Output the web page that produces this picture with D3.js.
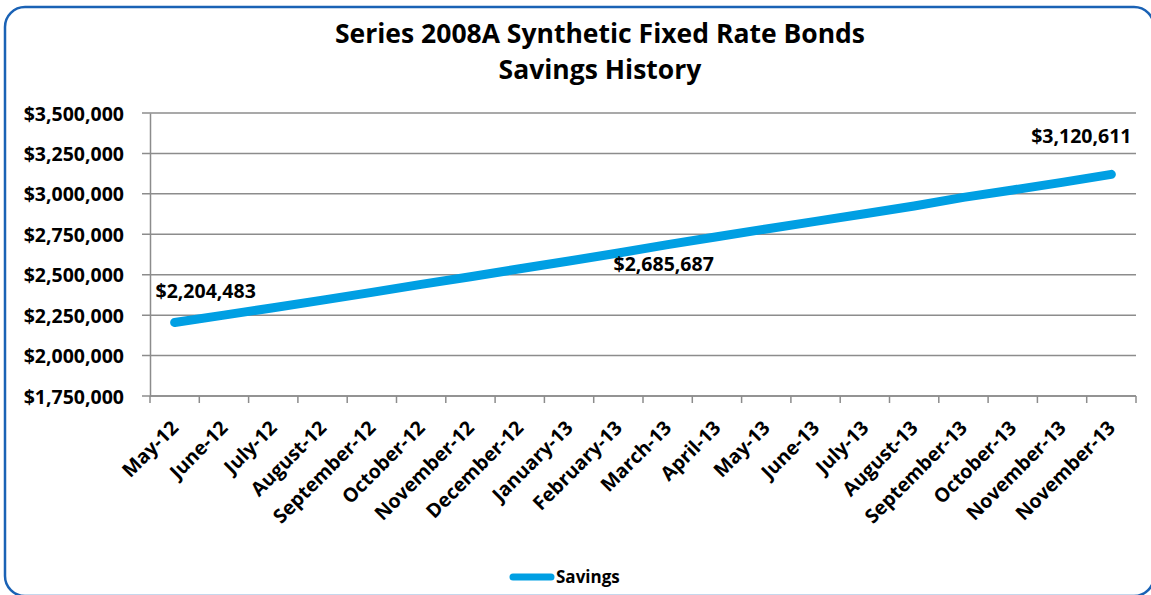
<!DOCTYPE html>
<html>
<head>
<meta charset="utf-8">
<script src="https://cdn.jsdelivr.net/npm/d3@7"></script>
<style>
  body { margin: 0; background: #fff; }
  text { font-family: "Open Sans", "DejaVu Sans", sans-serif; font-weight: 700; fill: #000; }
</style>
</head>
<body>
<script>
var months = ["May-12", "June-12", "July-12", "August-12", "September-12", "October-12",
              "November-12", "December-12", "January-13", "February-13", "March-13", "April-13",
              "May-13", "June-13", "July-13", "August-13", "September-13", "October-13",
              "November-13", "November-13"];
var savings = [2204483, 2250000, 2296000, 2343000, 2391000, 2440000, 2487000, 2537000,
               2585000, 2634000, 2685687, 2735000, 2783000, 2830000, 2877000, 2925000,
               2978000, 3024000, 3071000, 3120611];
var yTicks = [1750000, 2000000, 2250000, 2500000, 2750000, 3000000, 3250000, 3500000];
var labelIdx = [0, 10, 19];   // points that show their value

var W = 1151, H = 595,
    margin = {top: 113, left: 150},
    width = 1136 - margin.left,
    height = 396 - margin.top;

var svg = d3.select("body").append("svg")
    .attr("width", W)
    .attr("height", H);

// outer frame
svg.append("rect")
    .attr("x", 5).attr("y", 7)
    .attr("width", 1149).attr("height", 589)
    .attr("rx", 20).attr("ry", 20)
    .attr("fill", "none")
    .attr("stroke", "#1A62B5")
    .attr("stroke-width", 2.5);

svg.append("text")
    .attr("x", 600).attr("y", 43)
    .attr("text-anchor", "middle")
    .style("font-size", "26.5px")
    .text("Series 2008A Synthetic Fixed Rate Bonds");
svg.append("text")
    .attr("x", 600).attr("y", 79)
    .attr("text-anchor", "middle")
    .style("font-size", "26.5px")
    .text("Savings History");

var g = svg.append("g").attr("transform", "translate(" + margin.left + "," + margin.top + ")");

var x = d3.scaleBand()
    .domain(d3.range(months.length))
    .range([0, width]);

var y = d3.scaleLinear()
    .domain([1750000, 3500000])
    .range([height, 0]);

var fmt = d3.format("$,.0f");
var cx = function(i) { return x(i) + x.bandwidth() / 2; };

// gridlines
g.append("g")
    .selectAll("line")
    .data(yTicks)
    .enter().append("line")
      .attr("x1", -8).attr("x2", width)
      .attr("y1", function(d) { return y(d); })
      .attr("y2", function(d) { return y(d); })
      .attr("stroke", "#8c8c8c")
      .attr("stroke-width", 1.5);

// y axis
var yAxis = g.append("g")
    .call(d3.axisLeft(y).tickValues(yTicks).tickSize(0).tickPadding(26).tickFormat(fmt));
yAxis.select(".domain").attr("stroke", "#8c8c8c").attr("stroke-width", 1.5);
yAxis.selectAll("text").style("font-size", "19.5px").attr("dy", "0.36em");

// x axis, ticks between categories
var xAxis = g.append("g").attr("transform", "translate(0," + height + ")");
xAxis.append("line")
    .attr("x1", 0).attr("x2", width)
    .attr("stroke", "#8c8c8c").attr("stroke-width", 1.5);
xAxis.selectAll("line.tk")
    .data(d3.range(months.length + 1))
    .enter().append("line")
      .attr("class", "tk")
      .attr("x1", function(d) { return d * x.step(); })
      .attr("x2", function(d) { return d * x.step(); })
      .attr("y1", 0).attr("y2", 7)
      .attr("stroke", "#8c8c8c").attr("stroke-width", 1.5);
xAxis.selectAll("text")
    .data(months)
    .enter().append("text")
      .attr("transform", function(d, i) {
        return "translate(" + (cx(i) + 5) + ",33) rotate(-45)";
      })
      .attr("text-anchor", "end")
      .style("font-size", "19.5px")
      .text(function(d) { return d; });

var line = d3.line()
    .x(function(d, i) { return cx(i); })
    .y(function(d) { return y(d); });

g.append("path")
    .datum(savings)
    .attr("fill", "none")
    .attr("stroke", "#009FE3")
    .attr("stroke-width", 9)
    .attr("stroke-linejoin", "round")
    .attr("stroke-linecap", "round")
    .attr("d", line);

// data labels, nudged the way the original sits
var nudge = {0: [31, -25], 10: [-4, 26], 19: [-30, -31]};
g.selectAll("text.lbl")
    .data(labelIdx)
    .enter().append("text")
      .attr("class", "lbl")
      .attr("x", function(i) { return cx(i) + nudge[i][0]; })
      .attr("y", function(i) { return y(savings[i]) + nudge[i][1]; })
      .attr("text-anchor", "middle")
      .style("font-size", "19.5px")
      .text(function(i) { return fmt(savings[i]); });

// legend
var lg = svg.append("g").attr("transform", "translate(513,577)");
lg.append("line")
    .attr("x1", 0).attr("x2", 38)
    .attr("stroke", "#009FE3").attr("stroke-width", 7)
    .attr("stroke-linecap", "round");
lg.append("text")
    .attr("x", 43).attr("y", 6)
    .style("font-size", "17px")
    .text("Savings");
</script>
</body>
</html>
